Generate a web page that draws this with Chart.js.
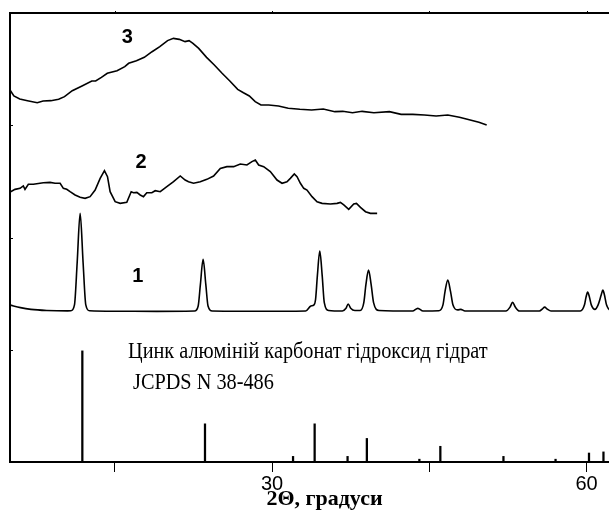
<!DOCTYPE html>
<html lang="uk">
<head>
<meta charset="utf-8">
<script src="https://cdn.jsdelivr.net/npm/chart.js@4.4.1/dist/chart.umd.min.js"></script>
<style>
  html, body { margin: 0; padding: 0; background: #fff; overflow: hidden; }
  #chart { display: block; }
</style>
</head>
<body>
<canvas id="chart" width="640" height="511"></canvas>
<script>
// 2-theta ticks, only 30 and 60 carry labels
var xTicks = [15, 30, 45, 60];
var xLabels = [30, 60];
var yTicks = [1, 2, 3];

// JCPDS 38-486 stick pattern
var stickPos = [11.9, 23.6, 32.0, 34.06, 37.2, 39.04, 44.05, 46.05, 52.07, 57.04, 60.23, 61.61];
var stickHeight = [0.99, 0.34, 0.05, 0.34, 0.05, 0.21, 0.025, 0.14, 0.05, 0.025, 0.08, 0.09];

// curve 1
var c1X = [5.0, 6.0, 7.0, 8.5, 10.5, 10.8, 11.15, 11.41, 11.69, 11.97,
           12.23, 12.6, 15, 19, 22.6, 22.95, 23.16, 23.42, 23.68, 23.89,
           24.3, 27, 31, 33.2, 33.7, 34.0, 34.15, 34.32, 34.55, 34.78,
           34.98, 35.4, 36.7, 37.05, 37.26, 37.5, 37.9, 38.4, 38.75, 38.95,
           39.2, 39.45, 39.68, 40.2, 43.4, 43.9, 44.4, 45.9, 46.3, 46.5,
           46.76, 47.02, 47.25, 47.7, 48.0, 48.4, 52.3, 52.7, 52.94, 53.2,
           53.6, 55.5, 55.8, 56.0, 56.25, 56.6, 59.4, 59.8, 59.95, 60.1,
           60.27, 60.45, 60.8, 61.1, 61.4, 61.55, 61.7, 61.9, 62.3, 63,
           65];
var c1Y = [1.398, 1.375, 1.36, 1.35, 1.346, 1.347, 1.40, 1.78, 2.216, 1.78,
           1.40, 1.347, 1.343, 1.342, 1.345, 1.39, 1.58, 1.806, 1.58, 1.39,
           1.345, 1.343, 1.343, 1.345, 1.39, 1.40, 1.45, 1.66, 1.880, 1.66,
           1.42, 1.35, 1.345, 1.37, 1.408, 1.37, 1.35, 1.35, 1.42, 1.58,
           1.710, 1.58, 1.42, 1.35, 1.345, 1.369, 1.345, 1.347, 1.40, 1.52,
           1.621, 1.52, 1.40, 1.355, 1.36, 1.345, 1.345, 1.38, 1.423, 1.38,
           1.345, 1.345, 1.365, 1.38, 1.362, 1.345, 1.345, 1.40, 1.47, 1.514,
           1.47, 1.40, 1.36, 1.40, 1.49, 1.532, 1.49, 1.40, 1.35, 1.345,
           1.345];

// curve 2
var c2X = [5.06, 5.48, 5.96, 6.27, 6.43, 6.75, 7.23, 8.18, 8.82, 9.30,
           9.78, 10.09, 10.41, 10.73, 11.21, 11.69, 12.16, 12.64, 13.12, 13.60,
           14.01, 14.30, 14.55, 15.03, 15.51, 16.14, 16.56, 16.78, 17.10, 17.42,
           17.73, 18.05, 18.53, 18.85, 19.33, 19.96, 20.60, 21.24, 21.71, 22.03,
           22.51, 23.15, 23.78, 24.42, 25.06, 25.69, 26.33, 26.97, 27.60, 28.08,
           28.40, 28.72, 29.20, 29.83, 30.47, 30.95, 31.42, 31.74, 32.12, 32.38,
           32.70, 33.02, 33.33, 33.81, 34.29, 34.77, 35.56, 36.20, 36.52, 36.84,
           37.31, 37.79, 38.05, 38.43, 38.91, 39.38, 40.02];
var c2Y = [2.408, 2.429, 2.438, 2.459, 2.429, 2.474, 2.474, 2.488, 2.491, 2.483,
           2.483, 2.438, 2.429, 2.408, 2.379, 2.358, 2.349, 2.364, 2.423, 2.527,
           2.595, 2.542, 2.408, 2.319, 2.304, 2.313, 2.408, 2.399, 2.402, 2.379,
           2.364, 2.399, 2.399, 2.417, 2.408, 2.453, 2.497, 2.548, 2.512, 2.497,
           2.483, 2.497, 2.518, 2.548, 2.616, 2.631, 2.631, 2.655, 2.646, 2.676,
           2.690, 2.646, 2.631, 2.587, 2.512, 2.483, 2.497, 2.527, 2.566, 2.542,
           2.483, 2.438, 2.423, 2.364, 2.319, 2.304, 2.298, 2.304, 2.313, 2.290,
           2.251, 2.298, 2.304, 2.269, 2.230, 2.215, 2.215];

// curve 3
var c3X = [5.00, 5.37, 5.93, 6.67, 7.60, 8.16, 8.90, 9.64, 10.20, 10.94,
           11.87, 12.80, 13.17, 13.72, 14.28, 15.21, 15.95, 16.32, 17.06, 17.81,
           18.55, 19.29, 20.03, 20.59, 21.15, 21.70, 22.08, 22.45, 23.00, 23.75,
           24.49, 25.23, 25.97, 26.72, 27.27, 27.83, 28.39, 28.94, 29.68, 30.61,
           31.54, 32.65, 33.77, 34.88, 35.99, 36.74, 37.67, 38.59, 39.71, 41.19,
           42.31, 43.42, 44.53, 45.65, 46.76, 47.87, 48.62, 49.73, 50.47];
var c3Y = [3.314, 3.261, 3.234, 3.219, 3.201, 3.216, 3.219, 3.231, 3.255, 3.308,
           3.350, 3.394, 3.394, 3.427, 3.463, 3.486, 3.522, 3.552, 3.575, 3.605,
           3.655, 3.700, 3.754, 3.774, 3.765, 3.745, 3.754, 3.730, 3.685, 3.605,
           3.537, 3.463, 3.394, 3.320, 3.290, 3.261, 3.210, 3.180, 3.180, 3.171,
           3.151, 3.142, 3.136, 3.145, 3.121, 3.124, 3.112, 3.124, 3.112, 3.121,
           3.097, 3.097, 3.091, 3.082, 3.091, 3.071, 3.053, 3.026, 3.002];

function pts(xs, ys) {
  return xs.map(function (v, i) { return { x: v, y: ys[i] }; });
}

var serif = "'Liberation Serif', 'Times New Roman', serif";
var sans = "'Liberation Sans', Arial, sans-serif";

// draws the narrow serif caption like the original (condensed horizontally)
function squeezed(ctx, text, x, y, sx) {
  ctx.save();
  ctx.translate(x, y);
  ctx.scale(sx, 1);
  ctx.fillText(text, 0, 0);
  ctx.restore();
}

var frame = {
  id: 'frame',
  afterDraw: function (chart) {
    var ctx = chart.ctx, a = chart.chartArea;
    var x = chart.scales.x, y = chart.scales.y;
    ctx.save();
    ctx.strokeStyle = '#000';
    ctx.lineWidth = 2;
    ctx.beginPath();
    ctx.moveTo(a.left - 1, a.top);
    ctx.lineTo(a.right, a.top);
    ctx.stroke();
    ctx.lineWidth = 1;
    ctx.beginPath();
    xTicks.forEach(function (v) {
      var px = Math.round(x.getPixelForValue(v)) + 0.5;
      ctx.moveTo(px, a.top);
      ctx.lineTo(px, a.top - 2);
    });
    yTicks.forEach(function (v) {
      var py = Math.round(y.getPixelForValue(v)) + 0.5;
      ctx.moveTo(a.left, py);
      ctx.lineTo(a.left + 3, py);
    });
    ctx.stroke();

    ctx.fillStyle = '#000';
    ctx.textAlign = 'center';
    ctx.textBaseline = 'middle';
    ctx.font = 'bold 20px ' + sans;
    ctx.fillText('3', x.getPixelForValue(16.2), y.getPixelForValue(3.78));
    ctx.fillText('2', x.getPixelForValue(17.5), y.getPixelForValue(2.67));
    ctx.fillText('1', x.getPixelForValue(17.2), y.getPixelForValue(1.656));

    ctx.textAlign = 'left';
    ctx.textBaseline = 'alphabetic';
    ctx.font = '24px ' + serif;
    squeezed(ctx, 'Цинк алюміній карбонат гідроксид гідрат', 128, 358, 0.845);
    squeezed(ctx, 'JCPDS N 38-486', 133, 389, 0.845);
    ctx.restore();
  }
};

new Chart(document.getElementById('chart'), {
  type: 'line',
  data: {
    datasets: [
      { data: pts(c1X, c1Y), borderColor: '#000', borderWidth: 1.6, pointRadius: 0, cubicInterpolationMode: 'monotone' },
      { data: pts(c2X, c2Y), borderColor: '#000', borderWidth: 1.6, pointRadius: 0, tension: 0 },
      { data: pts(c3X, c3Y), borderColor: '#000', borderWidth: 1.6, pointRadius: 0, tension: 0 },
      { type: 'bar', data: pts(stickPos, stickHeight), backgroundColor: '#000', barThickness: 1.6, grouped: false }
    ]
  },
  options: {
    responsive: false,
    animation: false,
    layout: { padding: { left: 10, top: 13, right: 1, bottom: 0 } },
    plugins: { legend: { display: false }, tooltip: { enabled: false } },
    scales: {
      x: {
        type: 'linear',
        min: 5,
        max: 65,
        offset: false,
        afterBuildTicks: function (s) { s.ticks = xTicks.map(function (v) { return { value: v }; }); },
        afterFit: function (s) { s.height = 49; },
        grid: { display: true, drawOnChartArea: false, drawTicks: true, tickLength: 10, color: '#000', lineWidth: 1, offset: false },
        border: { display: true, color: '#000', width: 2 },
        ticks: {
          padding: 0,
          maxRotation: 0,
          autoSkip: false,
          color: '#000',
          font: { family: sans, size: 20 },
          callback: function (v) { return xLabels.indexOf(v) >= 0 ? String(v) : ''; }
        },
        title: {
          display: true,
          text: '2Θ, градуси',
          color: '#000',
          font: { family: serif, size: 22, weight: 'bold' },
          padding: { top: 0, bottom: -2 }
        }
      },
      y: {
        min: 0,
        max: 4,
        afterFit: function (s) { s.width = 0; },
        grid: { display: false, drawTicks: false },
        border: { display: true, color: '#000', width: 2 },
        ticks: { display: false }
      }
    }
  },
  plugins: [frame]
});
</script>
</body>
</html>
